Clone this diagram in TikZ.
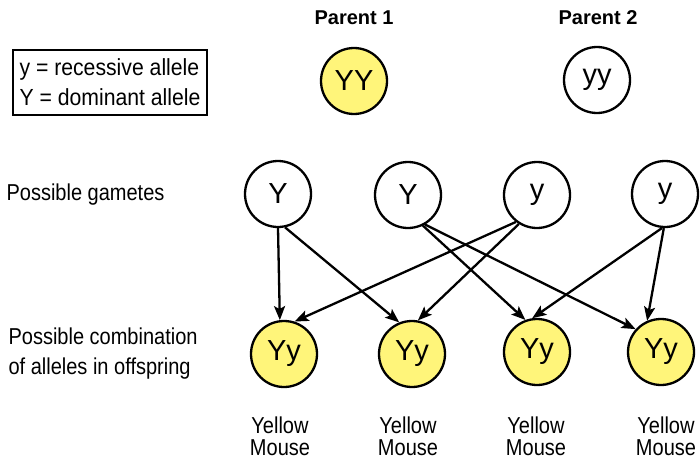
\documentclass[tikz,border=0pt]{standalone}
\usepackage{fontspec}
\setmainfont{Liberation Sans}
\newfontfamily\narrowfont{Liberation Sans}[FakeStretch=0.87]
\newfontfamily\legendfont{Liberation Sans}[FakeStretch=0.91]
\usetikzlibrary{arrows.meta}
\definecolor{allelefill}{RGB}{255,245,122}
\tikzset{
  allele/.style={circle, draw=black, line width=2.3pt, minimum size=66pt, inner sep=0pt,
    font=\fontsize{29}{30}\selectfont},
  yellowallele/.style={allele, fill=allelefill},
  plainallele/.style={allele, fill=white},
  link/.style={line width=2.3pt, -{Stealth[length=14pt,width=11pt,inset=3pt]}},
  rowlabel/.style={align=left, anchor=west, font=\narrowfont\fontsize{23}{30}\selectfont},
  parentlabel/.style={font=\fontsize{20}{22}\selectfont\bfseries},
  phenotype/.style={align=center, font=\narrowfont\fontsize{23}{22}\selectfont}
}
\begin{document}
\begin{tikzpicture}[x=1pt, y=-1pt]
  \useasboundingbox (0,0) rectangle (700,460);

  % legend
  \node[draw, line width=1.3pt, align=left, minimum width=194pt, minimum height=65pt,
        inner xsep=0pt, font=\legendfont\fontsize{23.3}{30}\selectfont] (legend) at (110,82.5)
    {y = recessive allele\\Y = dominant allele};

  % parents
  \node[parentlabel] (p1label) at (354,18) {Parent 1};
  \node[parentlabel] (p2label) at (598,18) {Parent 2};
  \node[yellowallele] (p1) at (354,81) {YY};
  \node[plainallele] (p2) at (597,80) {yy};

  % gametes
  \node[rowlabel] (gamlabel) at (3,195) {Possible gametes};
  \node[plainallele] (g1) at (278,194) {Y};
  \node[plainallele] (g2) at (408,195) {Y};
  \node[plainallele] (g3) at (537,195) {y};
  \node[plainallele] (g4) at (665,194) {y};

  % offspring
  \node[rowlabel] (offlabel) at (5,354) {Possible combination\\of alleles in offspring};
  \node[yellowallele] (o1) at (284,354) {Yy};
  \node[yellowallele] (o2) at (412,354) {Yy};
  \node[yellowallele] (o3) at (537,352) {Yy};
  \node[yellowallele] (o4) at (661,352) {Yy};

  % phenotypes
  \node[phenotype] (ph1) at (280,436) {Yellow\\Mouse};
  \node[phenotype] (ph2) at (408,436) {Yellow\\Mouse};
  \node[phenotype] (ph3) at (536,436) {Yellow\\Mouse};
  \node[phenotype] (ph4) at (666,436) {Yellow\\Mouse};

  % gamete combinations
  \draw[link] (g1.270) -- (o1.97);
  \draw[link] (g1.282) -- (o2.112);
  \draw[link] (g3.232) -- (o1.72);
  \draw[link] (g3.238) -- (o2.80);
  \draw[link] (g2.296) -- (o3.110);
  \draw[link] (g2.300) -- (o4.138);
  \draw[link] (g4.265) -- (o3.98);
  \draw[link] (g4.268) -- (o4.114);
\end{tikzpicture}
\end{document}
